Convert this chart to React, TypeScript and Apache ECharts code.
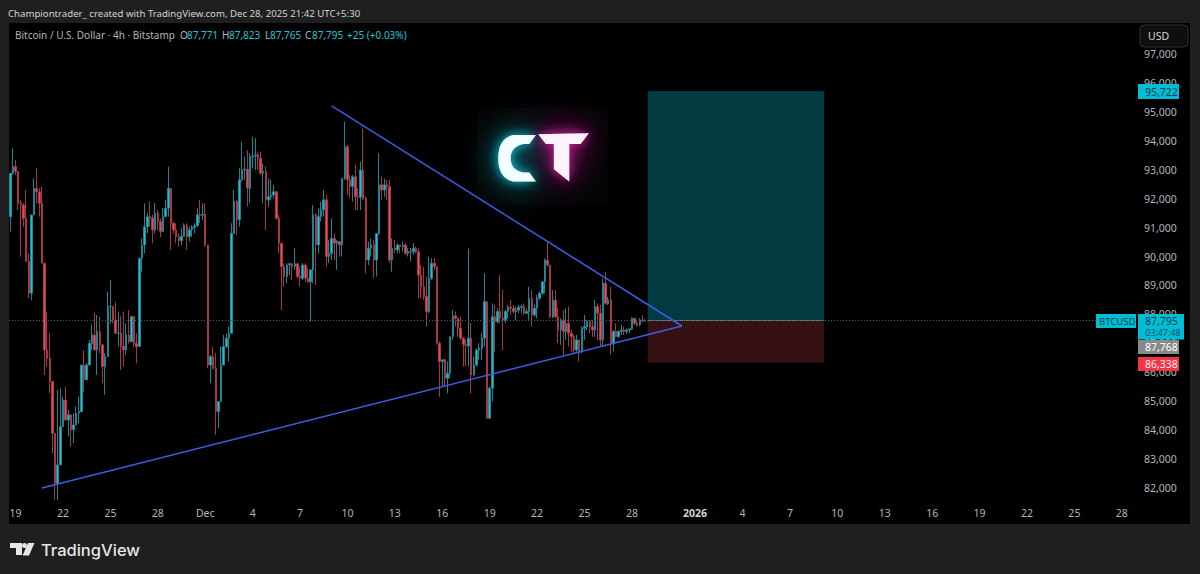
import React, { useEffect, useRef } from "react";
import * as echarts from "echarts";

const firstOpen = 91380;
const closes = [
  92880, 93110, 92940, 91840, 91780, 91320, 89830, 88730, 91440, 92360, 92240, 91840, 89770, 86770, 86480, 85680, 83890, 82160, 82800, 84120,
  85040, 84350, 84530, 84010, 84180, 84580, 84640, 86250, 85740, 86250, 87000, 87290, 86770, 87410, 86950, 86200, 86540, 88270, 88270, 87810,
  87350, 87350, 86890, 86770, 87290, 87060, 87930, 87000, 86890, 89940, 90400, 91030, 91380, 91340, 90920, 91500, 91210, 90860, 91380, 91670,
  92360, 91150, 90920, 90690, 90550, 90690, 91090, 90690, 90920, 91010, 91060, 91440, 91430, 91460, 90400, 86250, 86540, 86140, 84640, 84990,
  86250, 86890, 87180, 87350, 90800, 91900, 91270, 92650, 92990, 93020, 92360, 93450, 93480, 93510, 93400, 92880, 92940, 91960, 92070, 92130,
  92240, 91320, 90460, 89650, 89310, 89710, 89750, 89650, 89750, 89310, 89250, 89710, 89250, 89130, 89540, 91440, 90400, 91380, 91610, 91960,
  90000, 90110, 90630, 90460, 90520, 90400, 92700, 93800, 92650, 92420, 92760, 92070, 92050, 92990, 92010, 89880, 90290, 90400, 89880, 90800,
  92480, 92300, 92480, 92420, 89880, 90290, 90230, 90400, 90340, 90400, 90110, 90170, 90170, 90290, 90170, 89360, 88960, 88620, 88100, 89250,
  89770, 89650, 87000, 86370, 86430, 85790, 85970, 87230, 87950, 87870, 87520, 87180, 86950, 86910, 87180, 85910, 86250, 86770, 86830, 87180,
  88440, 84410, 85450, 87920, 87750, 88100, 87870, 87810, 88100, 88250, 88210, 88100, 88150, 88250, 88270, 88040, 88100, 88560, 87980, 88210,
  88560, 88730, 89130, 89880, 89710, 87920, 88500, 87920, 87460, 87810, 87410, 87690, 87350, 87230, 86770, 87120, 86710, 87520, 87580, 87750,
  87580, 87460, 88270, 88040, 87120, 89080, 88380, 88500, 87000, 87410, 87230, 87410, 87460, 87410, 87460, 87500, 87870, 87690, 87640, 87810,
  87771, 87795,
];
const highs = [
  92880, 93740, 93340, 92940, 91960, 91840, 92300, 90110, 91440, 92700, 93050, 92360, 92420, 89770, 88100, 87350, 85680, 83890, 85390, 85450,
  85160, 85500, 84700, 84530, 84580, 84820, 85160, 86250, 86770, 86310, 87120, 87640, 88060, 87980, 87930, 86950, 86660, 88790, 89190, 88270,
  88440, 88100, 87930, 88100, 87690, 88150, 87930, 87930, 87350, 89940, 90630, 91840, 91500, 91900, 91440, 91840, 91610, 91320, 91670, 91960,
  93110, 92360, 91210, 91150, 90800, 90980, 91150, 91150, 91030, 91090, 91150, 91670, 91960, 91840, 91840, 90400, 86600, 86890, 86660, 84990,
  86890, 87290, 87350, 87580, 91150, 92300, 91960, 93050, 93970, 93450, 93680, 93570, 94150, 94090, 93630, 93630, 93220, 93110, 92700, 92650,
  92470, 92240, 91440, 90460, 89770, 89770, 89790, 89770, 90290, 89710, 89650, 89770, 89770, 89590, 89540, 91780, 91500, 91670, 91900, 92300,
  92130, 90570, 91320, 90800, 90570, 90520, 92700, 94660, 93860, 92820, 92820, 93170, 92360, 93280, 94430, 92070, 90520, 90630, 90570, 90800,
  93570, 92760, 92700, 92650, 92650, 90630, 90570, 90460, 90400, 90520, 90460, 90290, 90290, 90460, 90340, 90290, 89710, 89650, 89310, 90000,
  89940, 89940, 89650, 87060, 86430, 86480, 86370, 87230, 88150, 88100, 87870, 87920, 87230, 87120, 90280, 87690, 86540, 86830, 87000, 87350,
  89420, 88440, 85500, 88380, 88330, 88210, 89360, 88840, 88150, 88330, 88500, 88330, 88270, 88330, 88330, 88380, 88210, 88960, 88840, 88330,
  88670, 88790, 89130, 89940, 90510, 89710, 88840, 88840, 88210, 87870, 88150, 88210, 88270, 87460, 87290, 87290, 87120, 87580, 87980, 87810,
  87810, 87810, 88500, 88380, 88330, 89250, 89480, 88610, 88960, 87460, 87690, 87460, 87640, 87580, 87520, 87520, 87900, 87870, 87810, 87870,
  87980, 87823,
];
const lows = [
  90860, 92820, 92820, 91610, 90000, 91030, 89830, 88560, 88500, 91440, 91840, 91380, 89770, 85910, 86200, 85280, 83200, 81590, 81590, 83090,
  84120, 84350, 83780, 83430, 83550, 84180, 84240, 84640, 85330, 85740, 86250, 86770, 86770, 85910, 86660, 85620, 85220, 86540, 87690, 87690,
  87350, 86890, 86080, 86200, 86600, 87000, 87060, 86890, 86310, 86890, 89480, 90110, 90800, 91030, 90460, 90800, 90920, 90670, 90860, 91380,
  91380, 90230, 90800, 90460, 90340, 90400, 90690, 90230, 90520, 90690, 90800, 91030, 91150, 91270, 90340, 86140, 85620, 86080, 83840, 84060,
  84990, 86250, 86830, 86370, 87350, 90800, 90750, 91030, 92590, 92650, 91730, 91840, 93050, 92990, 92990, 92820, 91840, 90920, 91730, 91960,
  92010, 91270, 90110, 88150, 88960, 89080, 89360, 89190, 89540, 89250, 88960, 89190, 89130, 89080, 87750, 89080, 89020, 90110, 91210, 91380,
  89650, 89770, 89880, 89880, 89540, 90000, 90000, 92650, 92130, 92010, 91900, 91610, 91610, 91610, 91960, 89420, 89710, 90000, 89250, 89310,
  90750, 91960, 92070, 91960, 89770, 89480, 90110, 90110, 90110, 90170, 90060, 90000, 89830, 90060, 90110, 88560, 88560, 88500, 87580, 88040,
  89190, 89540, 86950, 85160, 85500, 85500, 85270, 85790, 87120, 87580, 87230, 87120, 86200, 86200, 86200, 85270, 85850, 86200, 86430, 86430,
  86890, 84410, 84410, 84990, 86710, 87690, 87690, 86770, 87690, 87870, 87980, 88040, 87810, 88040, 88040, 87980, 88020, 87810, 87580, 87920,
  87870, 88500, 88670, 88730, 89650, 87870, 87870, 87870, 87000, 86950, 86600, 87120, 86890, 86710, 86660, 86710, 86370, 86660, 87120, 87460,
  87350, 87230, 87230, 87120, 86890, 86890, 88330, 88330, 86600, 86710, 87210, 87180, 87290, 87290, 87320, 87350, 87460, 87640, 87580, 87580,
  87720, 87765,
];

const totalBars = 426;
const tickBars = [2, 20, 38, 56, 74, 92, 110, 128, 146, 164, 182, 200, 218, 236, 260, 278, 296, 314, 332, 350, 368, 386, 404, 422];
const tickTexts = ["19", "22", "25", "28", "Dec", "4", "7", "10", "13", "16", "19", "22", "25", "28", "2026", "4", "7", "10", "13", "16", "19", "22", "25", "28"];
const priceTicks = [82000, 83000, 84000, 85000, 86000, 87000, 88000, 89000, 90000, 91000, 92000, 93000, 94000, 95000, 96000, 97000];

const targetPrice = 95722;
const lastPrice = 87795;
const stopPrice = 86338;
const boxStartBar = 242;
const boxEndBar = 309;
const apexBar = 255;
const lowerLine = [[12, 82000], [apexBar, 87600]];
const upperLine = [[122, 95206], [apexBar, 87600]];

const TEAL = "#22c1d6";
const TEAL_DIM = "#1a8796";
const RED = "#ee4a5c";
const RED_DIM = "#a93645";
const BLUE = "#3a5ee6";
const FONT = "'Noto Sans', sans-serif";

const D_C = "M130 105 L198 105 L178 132 L160 132 Q122 140 122 175 Q122 210 160 218 L178 218 L198 245 L130 245 Q85 235 85 175 Q85 115 130 105 Z";
const D_T = "M205 103 L357 100 L332 132 L298 132 L298 245 L252 208 L252 132 L228 132 Z";
echarts.graphic.registerShape("ctC", echarts.graphic.extendPath(D_C, {}));
echarts.graphic.registerShape("ctT", echarts.graphic.extendPath(D_T, {}));

const txt = (text: string, x: number, y: number, fill: string, fontSize = 10.5, extra: any = {}) => ({
  type: "text",
  x,
  y,
  z: 100,
  silent: true,
  style: { text, fill, fontSize, fontFamily: FONT, verticalAlign: "middle", align: "left", ...extra },
});
const box = (x: number, y: number, width: number, height: number, fill: string, extra: any = {}) => ({
  type: "rect",
  z: 99,
  silent: true,
  shape: { x, y, width, height, ...(extra.r ? { r: extra.r } : {}) },
  style: { fill, ...(extra.stroke ? { stroke: extra.stroke, lineWidth: 1 } : {}) },
});
const logoPart = (type: string, fill: string, blur: number, glow: string, z: number) => ({
  type, z, silent: true, x: 470, y: 100, scaleX: 1 / 3, scaleY: 1 / 3,
  style: { fill, shadowBlur: blur, shadowColor: glow },
});

export default function App() {
  const ref = useRef<HTMLDivElement>(null);
  useEffect(() => {
    document.body.style.margin = "0";
    const chart = echarts.init(ref.current!, undefined, { renderer: "svg" });
    const categories = Array.from({ length: totalBars }, (_, i) =>
      new Date(Date.UTC(2025, 10, 18, 16) + i * 4 * 3600 * 1000).toISOString()
    );
    const tickMap = new Map(tickBars.map((b, i) => [b, tickTexts[i]]));
    const candles = closes.map((c, i) => {
      const o = i === 0 ? firstOpen : closes[i - 1];
      return [o, c, Math.min(lows[i], o, c), Math.max(highs[i], o, c)];
    });
    const seg = (line: number[][]) => [
      { coord: [categories[line[0][0]], line[0][1]] },
      { coord: [categories[line[1][0]], line[1][1]] },
    ];
    chart.setOption({
      animation: false,
      backgroundColor: "#1f1f1f",
      textStyle: { fontFamily: FONT },
      grid: { left: 9, right: 69, top: 25.12, bottom: 57.07 },
      xAxis: {
        type: "category",
        data: categories,
        boundaryGap: true,
        axisLine: { show: false },
        axisTick: { show: false },
        splitLine: { show: false },
        axisLabel: {
          color: "#b2b5be",
          fontSize: 10.5,
          fontFamily: FONT,
          margin: -9,
          interval: (i: number) => tickMap.has(i),
          formatter: (_: string, i: number) => {
            const t = tickMap.get(i) ?? "";
            return t === "2026" ? "{b|2026}" : t;
          },
          rich: { b: { fontWeight: "bold", color: "#d1d4dc", fontSize: 10.5, fontFamily: FONT } },
        },
      },
      yAxis: {
        type: "value",
        position: "right",
        min: 81000,
        max: 98000,
        interval: 1000,
        scale: true,
        axisLine: { show: false },
        axisTick: { show: false },
        splitLine: { show: false },
        axisLabel: {
          color: "#b2b5be",
          fontSize: 10.5,
          fontFamily: FONT,
          margin: 13,
          formatter: (v: number) => (priceTicks.includes(v) ? v.toLocaleString("en-US") : ""),
        },
      },
      series: [
        {
          type: "candlestick",
          name: "BTCUSD",
          barWidth: 2,
          data: candles,
          z: 5,
          itemStyle: { color: TEAL, color0: RED, borderColor: TEAL_DIM, borderColor0: RED_DIM, borderWidth: 1 },
          markArea: {
            silent: true,
            z: 1,
            data: [
              [
                { xAxis: categories[boxStartBar], yAxis: targetPrice, itemStyle: { color: "#013a40" } },
                { xAxis: categories[boxEndBar], yAxis: lastPrice },
              ],
              [
                { xAxis: categories[boxStartBar], yAxis: lastPrice, itemStyle: { color: "#361114" } },
                { xAxis: categories[boxEndBar], yAxis: stopPrice },
              ],
            ],
          },
          markLine: {
            silent: true,
            symbol: "none",
            z: 6,
            label: { show: false },
            data: [
              { yAxis: lastPrice, lineStyle: { color: "#1d6f7a", width: 1, type: [1, 2] } },
              [
                { coord: [categories[boxStartBar], lastPrice], lineStyle: { color: "#8fb8b8", width: 1, type: [1, 1] } },
                { coord: [categories[boxEndBar], lastPrice] },
              ],
              [
                { ...seg(lowerLine)[0], lineStyle: { color: BLUE, width: 1.5, type: "solid" } },
                seg(lowerLine)[1],
              ],
              [
                { ...seg(upperLine)[0], lineStyle: { color: BLUE, width: 1.5, type: "solid" } },
                seg(upperLine)[1],
              ],
            ],
          },
        },
      ],
      graphic: [
        { type: "rect", z: -10, silent: true, shape: { x: 9, y: 23, width: 1181, height: 501 }, style: { fill: "#000000" } },
        { type: "rect", z: -9, silent: true, shape: { x: 477, y: 108, width: 131, height: 97 }, style: { fill: "#040404" } },
        logoPart("ctC", "#0fa9bf", 34, "#0fb8d0", 2),
        logoPart("ctT", "#c01a90", 34, "#d01fa0", 2),
        logoPart("ctC", "#f2ffff", 12, "#12c8e0", 3),
        logoPart("ctT", "#fff2fb", 12, "#e01fa8", 3),
        txt("Championtrader_ created with TradingView.com, Dec 28, 2025 21:42 UTC+5:30", 8, 13, "#d1d4dc", 9.65),
        txt("Bitcoin / U.S. Dollar · 4h · Bitstamp", 15, 35, "#b2b5be", 10),
        txt("O", 180, 35, "#b2b5be", 10),
        txt("87,771", 187, 35, TEAL, 10),
        txt("H", 222, 35, "#b2b5be", 10),
        txt("87,823", 229, 35, TEAL, 10),
        txt("L", 265, 35, "#b2b5be", 10),
        txt("87,765", 270, 35, TEAL, 10),
        txt("C", 305, 35, "#b2b5be", 10),
        txt("87,795", 312, 35, TEAL, 10),
        txt("+25 (+0.03%)", 347, 35, TEAL, 10),
        box(1140, 25, 48, 22, "#0e0e0e", { r: 4, stroke: "#2e2e2e" }),
        txt("USD", 1148, 36, "#d1d4dc", 10.5),
        box(1138, 84, 41, 15, "#00bcd4"),
        txt("95,722", 1145, 91.5, "#07404a", 10.5),
        box(1096, 314, 40, 14, "#00bcd4"),
        txt("BTCUSD", 1099, 321, "#07404a", 9.5),
        box(1138, 314, 46, 25.5, "#00bcd4"),
        txt("87,795", 1145, 320.5, "#07404a", 10.5),
        txt("03:47:48", 1145, 332.5, "#0a5560", 9),
        box(1138, 340, 41, 14, "#8a8a8a"),
        txt("87,768", 1145, 347, "#ffffff", 10.5),
        box(1138, 357, 41, 14, "#f23645"),
        txt("86,338", 1145, 364, "#ffe9ea", 10.5),
        { type: "polygon", z: 100, silent: true, shape: { points: [[10, 543], [22, 543], [22, 555], [16, 555], [16, 548], [10, 548]] }, style: { fill: "#e6e6e6" } },
        { type: "circle", z: 100, silent: true, shape: { cx: 24.5, cy: 545.5, r: 2.5 }, style: { fill: "#e6e6e6" } },
        { type: "polygon", z: 100, silent: true, shape: { points: [[28, 543], [34.5, 543], [29, 555.5], [22.5, 555.5]] }, style: { fill: "#e6e6e6" } },
        txt("TradingView", 41, 549.5, "#e6e6e6", 16.5, { fontFamily: "Inter, sans-serif", fontWeight: 500 }),
      ],
    });
    return () => chart.dispose();
  }, []);
  return <div ref={ref} style={{ width: 1200, height: 574 }} />;
}
